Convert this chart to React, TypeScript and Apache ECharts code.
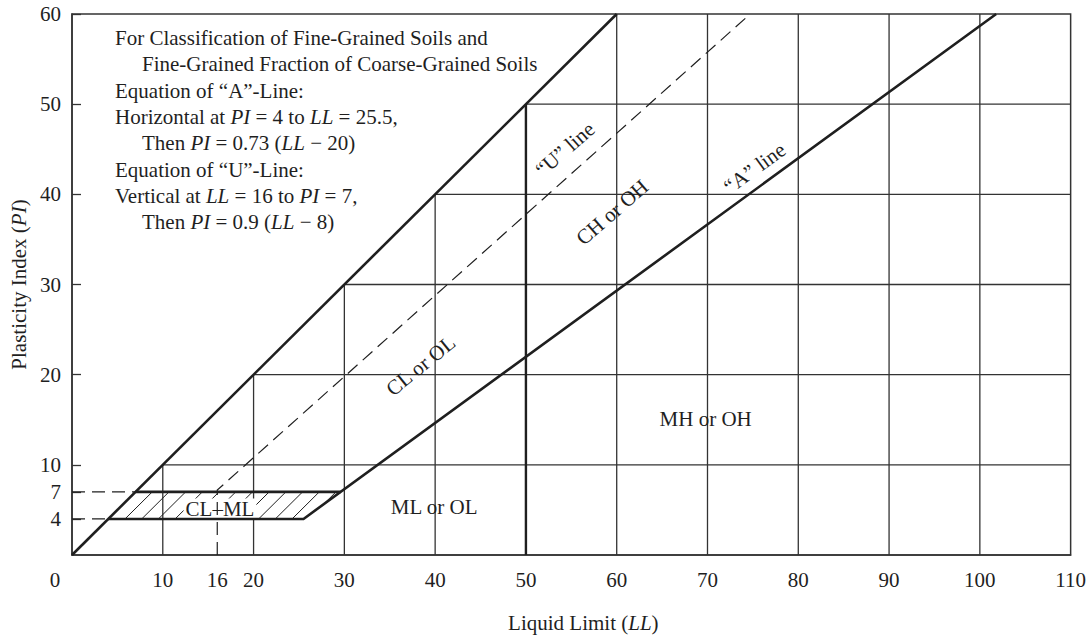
import React, { useEffect, useRef } from 'react';
import * as echarts from 'echarts';

// ---- data ----
const xTickValues = [0, 10, 16, 20, 30, 40, 50, 60, 70, 80, 90, 100, 110];
const yTickValues = [4, 7, 10, 20, 30, 40, 50, 60];
const gridLL = [10, 20, 30, 40, 60, 70, 80, 90, 100];
const gridPI = [10, 20, 30, 40, 50];

const limitLine = [[0, 0], [60, 60]]; // PI = LL upper bound
const aLine = [[4, 4], [25.5, 4], [101.8, 60]];
const zoneTop = [[7, 7], [29.6, 7]];
const uLine = [[16, 0], [16, 7.2], [74.7, 60]];
const llFifty = [[50, 0], [50, 50]];
const guide7 = [[0, 7], [7, 7]];
const guide4 = [[0, 4], [4, 4]];

const zoneTexts = ['“U” line', 'CL or OL', 'CH or OH', '“A” line', 'MH or OH', 'ML or OL', 'CL–ML'];
const zoneLL = [54.3, 38.4, 59.5, 75.2, 69.8, 39.9, 16.3];
const zonePI = [45.0, 21.0, 38.0, 42.9, 15.1, 5.3, 5.1];
const zoneAngles = [41, 39, 41, 36, 0, 0, 0];

const noteLines = [
  'For Classification of Fine-Grained Soils and',
  'Fine-Grained Fraction of Coarse-Grained Soils',
  'Equation of “A”-Line:',
  'Horizontal at {i|PI} = 4 to {i|LL} = 25.5,',
  'Then {i|PI} = 0.73 ({i|LL} − 20)',
  'Equation of “U”-Line:',
  'Vertical at {i|LL} = 16 to {i|PI} = 7,',
  'Then {i|PI} = 0.9 ({i|LL} − 8)',
];
const noteIndented = [false, true, false, false, true, false, false, true];

// ---- styles ----
const FONT = '"Liberation Serif", "Times New Roman", serif';
const FS = 21;
const INK = '#1f1f1f';
const GRIDC = '#333';

export default function App() {
  const ref = useRef<HTMLDivElement>(null);

  useEffect(() => {
    if (!ref.current) return;
    const chart = echarts.init(ref.current, undefined, { renderer: 'svg' });

    // grid segments (staircase: clipped by PI = LL line)
    const gridSegs: number[][] = [];
    gridLL.forEach((ll) => gridSegs.push([ll, 0, ll, Math.min(ll, 60)]));
    gridPI.forEach((pi) => gridSegs.push([pi, pi, 110, pi]));

    const italicRich = {
      i: { fontStyle: 'italic', fontFamily: FONT, fontSize: FS, color: INK },
    };

    const lineSeries = (data: number[][], width: number, dashed = false, z = 5) => ({
      type: 'line',
      data,
      symbol: 'none',
      silent: true,
      z,
      lineStyle: { color: INK, width, type: dashed ? [13, 7] : 'solid', cap: 'butt', join: 'miter' },
    });

    const graphics = noteLines.map((t, i) => ({
      type: 'text',
      x: noteIndented[i] ? 142 : 115,
      y: 38 + i * 26.3,
      silent: true,
      style: {
        text: t,
        fill: INK,
        fontFamily: FONT,
        fontSize: FS,
        font: `${FS}px ${FONT}`,
        textVerticalAlign: 'middle',
        verticalAlign: 'middle',
        rich: italicRich,
      },
    }));

    const option: any = {
      animation: false,
      backgroundColor: '#ffffff',
      grid: {
        left: 72,
        top: 14,
        width: 999,
        height: 544,
        show: true,
        borderColor: GRIDC,
        borderWidth: 1.5,
      },
      xAxis: {
        type: 'value',
        min: 0,
        max: 110,
        axisLine: { show: true, onZero: false, lineStyle: { color: GRIDC, width: 1.5 } },
        axisTick: { show: false },
        splitLine: { show: false },
        axisLabel: {
          customValues: xTickValues,
          margin: 14,
          color: INK,
          fontFamily: FONT,
          fontSize: FS,
          formatter: (v: number) => (v === 0 ? '{o|0}' : String(v)),
          rich: { o: { padding: [0, 34, 0, 0], fontFamily: FONT, fontSize: FS, color: INK } },
        },
        name: 'Liquid Limit ({i|LL})',
        nameLocation: 'middle',
        nameGap: 57,
        nameTextStyle: {
          color: INK,
          fontFamily: FONT,
          fontSize: FS,
          padding: [0, 0, 0, 24],
          rich: italicRich,
        },
      },
      yAxis: {
        type: 'value',
        min: 0,
        max: 60,
        axisLine: { show: true, onZero: false, lineStyle: { color: GRIDC, width: 1.5 } },
        axisTick: {
          show: true,
          inside: true,
          length: 9,
          customValues: yTickValues,
          lineStyle: { color: GRIDC, width: 1.3 },
        },
        splitLine: { show: false },
        axisLabel: {
          customValues: yTickValues,
          margin: 11,
          color: INK,
          fontFamily: FONT,
          fontSize: FS,
        },
        name: 'Plasticity Index ({i|PI})',
        nameLocation: 'middle',
        nameGap: 37,
        nameTextStyle: {
          color: INK,
          fontFamily: FONT,
          fontSize: FS,
          rich: italicRich,
        },
      },
      graphic: graphics,
      series: [
        {
          type: 'custom',
          name: 'grid',
          silent: true,
          z: 1,
          clip: false,
          encode: { x: [0, 2], y: [1, 3] },
          data: gridSegs,
          renderItem: (_p: any, api: any) => {
            const a = api.coord([api.value(0), api.value(1)]);
            const b = api.coord([api.value(2), api.value(3)]);
            return {
              type: 'line',
              shape: { x1: a[0], y1: a[1], x2: b[0], y2: b[1] },
              style: { stroke: GRIDC, lineWidth: 1.3 },
            };
          },
        },
        {
          type: 'custom',
          name: 'hatch',
          silent: true,
          z: 2,
          clip: false,
          data: [[0]],
          renderItem: (_p: any, api: any) => {
            const children: any[] = [];
            const step = 1.84;
            for (let k = 1; k <= 12; k++) {
              const c = k * step;
              let pb = 4;
              let lb = 4 + c;
              const aAt4 = 4 / 0.73 + 20;
              if (lb > aAt4) {
                pb = (0.73 * (c - 20)) / 0.27;
                lb = pb + c;
              }
              const pt = 7;
              const lt = 7 + c;
              if (pb >= 7) continue;
              const a = api.coord([lb, pb]);
              const b = api.coord([lt, pt]);
              children.push({
                type: 'line',
                shape: { x1: a[0], y1: a[1], x2: b[0], y2: b[1] },
                style: { stroke: INK, lineWidth: 1 },
              });
            }
            return { type: 'group', children };
          },
        },
        {
          type: 'custom',
          name: 'labels',
          silent: true,
          z: 3,
          clip: false,
          data: zoneLL.map((ll, i) => [ll, zonePI[i]]),
          renderItem: (p: any, api: any) => {
            const i = p.dataIndex;
            const pt = api.coord([api.value(0), api.value(1)]);
            const isCLML = zoneTexts[i] === 'CL–ML';
            return {
              type: 'text',
              x: pt[0],
              y: pt[1],
              rotation: (zoneAngles[i] * Math.PI) / 180,
              style: {
                text: zoneTexts[i],
                fill: INK,
                font: `${FS}px ${FONT}`,
                textAlign: 'center',
                textVerticalAlign: 'middle',
                align: 'center',
                verticalAlign: 'middle',
                backgroundColor: isCLML ? '#ffffff' : undefined,
                padding: isCLML ? [0, 2] : 0,
              },
            };
          },
        },
        lineSeries(guide7, 1.2, true, 4),
        lineSeries(guide4, 1.2, true, 4),
        lineSeries(uLine, 1.2, true, 4),
        lineSeries(limitLine, 2.6),
        lineSeries(aLine, 2.6),
        lineSeries(zoneTop, 2.6),
        lineSeries(llFifty, 2.4),
      ],
    };

    chart.setOption(option);
    return () => chart.dispose();
  }, []);

  return (
    <div
      ref={ref}
      style={{ position: 'fixed', left: 0, top: 0, width: 1089, height: 638, background: '#fff' }}
    />
  );
}
